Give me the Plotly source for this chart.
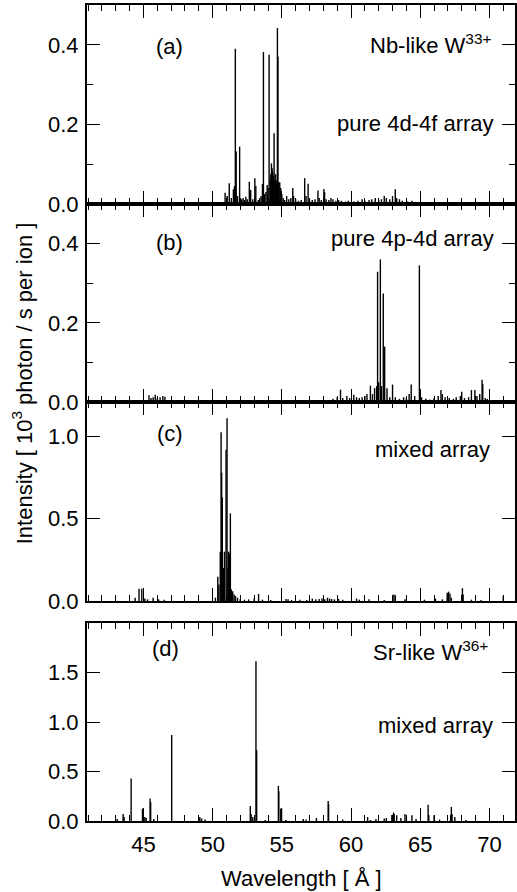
import plotly.graph_objects as go

# ---------------- data (wavelength in Å, intensity in 10^3 photon/s per ion) -------------
wl_a = [50.90, 51.05, 51.20, 51.35, 51.50, 51.58, 51.64, 51.70, 51.80, 51.95, 52.00, 52.10, 52.20, 52.30,
        52.40, 52.50, 52.65, 52.75, 52.90, 53.05, 53.12, 53.30, 53.40, 53.50, 53.60, 53.67, 53.75, 53.85,
        53.94, 54.00, 54.08, 54.15, 54.20, 54.25, 54.30, 54.35, 54.40, 54.44, 54.50, 54.55, 54.60, 54.64,
        54.68, 54.72, 54.78, 54.85, 54.92, 55.00, 55.10, 55.20, 55.35, 55.50, 55.65, 55.79, 55.85, 56.00,
        56.20, 56.40, 56.65, 56.75, 56.90, 57.00, 57.20, 57.40, 57.61, 57.70, 57.85, 58.04, 58.09, 58.20,
        58.40, 58.55, 58.70, 58.90, 59.10, 59.30, 59.60, 59.80, 60.00, 60.20, 60.50, 60.80, 61.00, 61.30,
        61.50, 61.75, 62.00, 62.20, 62.40, 62.55, 62.80, 63.00, 63.20, 63.30, 63.50, 63.70, 64.10, 64.40,
        64.80, 65.50, 66.20]
int_a = [0.028, 0.020, 0.052, 0.015, 0.037, 0.045, 0.390, 0.132, 0.020, 0.144, 0.010, 0.012, 0.015, 0.010,
         0.018, 0.012, 0.056, 0.035, 0.012, 0.065, 0.045, 0.010, 0.015, 0.020, 0.050, 0.382, 0.025, 0.030,
         0.048, 0.040, 0.375, 0.060, 0.075, 0.102, 0.090, 0.080, 0.070, 0.178, 0.060, 0.075, 0.055, 0.060,
         0.442, 0.370, 0.055, 0.054, 0.040, 0.025, 0.015, 0.010, 0.020, 0.012, 0.015, 0.040, 0.020, 0.012,
         0.008, 0.010, 0.065, 0.020, 0.051, 0.012, 0.010, 0.012, 0.034, 0.015, 0.010, 0.038, 0.030, 0.012,
         0.010, 0.015, 0.012, 0.008, 0.010, 0.008, 0.006, 0.008, 0.005, 0.006, 0.008, 0.012, 0.008, 0.010,
         0.012, 0.015, 0.010, 0.012, 0.020, 0.015, 0.012, 0.020, 0.037, 0.015, 0.012, 0.008, 0.006, 0.008,
         0.005, 0.004, 0.003]

wl_b = [45.40, 45.55, 45.70, 45.85, 46.00, 46.20, 46.40, 46.55, 46.80, 47.30, 58.20, 58.70, 59.00, 59.24,
        59.40, 59.70, 59.90, 60.20, 60.40, 60.60, 60.80, 61.00, 61.15, 61.40, 61.55, 61.70, 61.85, 61.92,
        62.00, 62.12, 62.20, 62.33, 62.43, 62.60, 62.80, 63.00, 63.20, 63.50, 63.80, 64.00, 64.20, 64.35,
        64.60, 64.94, 65.10, 65.40, 65.70, 66.00, 66.30, 66.50, 66.60, 66.80, 67.10, 67.40, 67.60, 67.90,
        68.00, 68.20, 68.50, 68.70, 68.95, 69.10, 69.30, 69.47, 69.52, 69.70, 69.85]
int_b = [0.017, 0.010, 0.012, 0.018, 0.010, 0.012, 0.015, 0.013, 0.005, 0.004, 0.004, 0.008, 0.012, 0.031,
         0.010, 0.015, 0.010, 0.018, 0.012, 0.010, 0.012, 0.015, 0.020, 0.041, 0.020, 0.035, 0.040, 0.329,
         0.050, 0.360, 0.040, 0.274, 0.140, 0.035, 0.012, 0.044, 0.012, 0.008, 0.012, 0.010, 0.020, 0.044,
         0.015, 0.345, 0.012, 0.008, 0.006, 0.010, 0.015, 0.030, 0.020, 0.012, 0.010, 0.008, 0.012, 0.015,
         0.026, 0.010, 0.012, 0.030, 0.030, 0.015, 0.020, 0.056, 0.045, 0.010, 0.008]

wl_c = [44.40, 44.68, 44.88, 45.10, 45.30, 45.70, 46.10, 46.50, 50.20, 50.37, 50.45, 50.55, 50.61, 50.65,
        50.70, 50.78, 50.85, 50.97, 51.04, 51.10, 51.15, 51.22, 51.28, 51.35, 51.45, 51.55, 51.65, 51.80,
        52.00, 52.30, 52.60, 53.00, 53.32, 53.60, 54.20, 55.30, 55.45, 55.70, 56.30, 56.80, 57.20, 57.45,
        57.70, 57.90, 58.10, 58.30, 58.45, 58.60, 58.80, 59.10, 59.40, 60.40, 60.60, 61.30, 62.40, 63.10,
        63.20, 63.90, 65.30, 66.10, 66.60, 66.95, 67.05, 67.15, 67.25, 68.05, 68.10, 68.70, 69.40, 71.00]
int_c = [0.020, 0.075, 0.075, 0.015, 0.010, 0.020, 0.010, 0.008, 0.020, 0.148, 0.100, 0.300, 1.026, 0.780,
         0.630, 0.200, 0.300, 0.920, 1.111, 0.200, 0.300, 0.290, 0.533, 0.070, 0.060, 0.040, 0.030, 0.020,
         0.012, 0.008, 0.010, 0.015, 0.043, 0.008, 0.006, 0.012, 0.010, 0.006, 0.008, 0.006, 0.015, 0.010,
         0.012, 0.015, 0.010, 0.020, 0.015, 0.012, 0.010, 0.012, 0.008, 0.015, 0.008, 0.010, 0.006, 0.040,
         0.035, 0.010, 0.008, 0.015, 0.010, 0.050, 0.057, 0.045, 0.020, 0.077, 0.040, 0.008, 0.006, 0.030]

wl_d = [43.10, 43.53, 43.60, 44.11, 44.93, 45.10, 45.20, 45.48, 45.52, 45.75, 47.04, 49.07, 49.20, 49.45,
        52.72, 52.78, 52.90, 53.13, 53.18, 53.80, 54.75, 54.78, 54.92, 54.98, 55.30, 56.55, 56.75, 57.50,
        58.35, 58.38, 59.40, 61.20, 61.40, 61.80, 62.40, 62.55, 62.95, 63.07, 63.12, 63.30, 63.60, 63.90,
        64.40, 64.70, 65.57, 65.62, 66.00, 66.40, 67.20, 67.25, 67.30, 67.50, 68.30]
int_d = [0.020, 0.070, 0.040, 0.430, 0.125, 0.040, 0.030, 0.227, 0.190, 0.020, 0.869, 0.040, 0.025, 0.015,
         0.152, 0.070, 0.040, 1.613, 0.717, 0.010, 0.355, 0.300, 0.125, 0.125, 0.010, 0.020, 0.015, 0.030,
         0.203, 0.170, 0.015, 0.040, 0.010, 0.020, 0.025, 0.030, 0.060, 0.085, 0.070, 0.058, 0.030, 0.070,
         0.058, 0.020, 0.163, 0.060, 0.058, 0.015, 0.060, 0.142, 0.070, 0.040, 0.010]

panel_letters = ["(a)", "(b)", "(c)", "(d)"]
y_ranges = [[0, 0.5], [0, 0.5], [0, 1.21], [0, 2.0]]
y_tickvals = [[0, 0.2, 0.4], [0, 0.2, 0.4], [0, 0.5, 1.0], [0, 0.5, 1.0, 1.5]]
y_minorvals = [[0.1, 0.3], [0.1, 0.3], [], []]
x_range = [40.92, 71.85]
x_title = "Wavelength [ Å ]"
y_title = "Intensity [ 10<sup>3</sup> photon / s per ion ]"

# ---------------- layout geometry (pixels) ----------------
W, H = 517, 892
L, R, T, B = 87, 517, 5, 821
panels_px = [(5, 204), (204, 402), (402, 601), (623, 821)]


def px(x, y):
    return (x - L) / (R - L), (B - y) / (B - T)


FONT = "Liberation Sans, Arial, Helvetica, sans-serif"
FS = 22
fig = go.Figure()

series = [(wl_a, int_a), (wl_b, int_b), (wl_c, int_c), (wl_d, int_d)]
for i, (wl, it) in enumerate(series):
    xs, ys = [], []
    for w, v in zip(wl, it):
        xs += [w, w, None]
        ys += [0, v, None]
    suffix = "" if i == 0 else str(i + 1)
    fig.add_trace(go.Scatter(x=xs, y=ys, mode="lines", line=dict(color="black", width=1.4),
                             xaxis="x" + suffix, yaxis="y" + suffix, showlegend=False,
                             hoverinfo="skip"))

layout = dict(width=W, height=H, margin=dict(l=L, r=W - R, t=T, b=H - B),
              paper_bgcolor="white", plot_bgcolor="white", showlegend=False,
              font=dict(family=FONT, size=FS, color="black"))

for i, (top, bot) in enumerate(panels_px):
    suffix = "" if i == 0 else str(i + 1)
    d0 = (B - bot) / (B - T)
    d1 = (B - top) / (B - T)
    xa = dict(domain=[0, 1], range=x_range, anchor="y" + suffix, showline=True, linewidth=2,
              linecolor="black", mirror="ticks", ticks="inside", ticklen=13, tickwidth=1.2,
              tickcolor="black", tick0=0, dtick=5, showgrid=False, zeroline=False,
              showticklabels=(i == 3), tickfont=dict(size=FS, family=FONT),
              ticklabelstandoff=3,
              minor=dict(dtick=1, tick0=0, ticklen=6, tickwidth=1.2, ticks="inside",
                         tickcolor="black", showgrid=False))
    ya = dict(domain=[d0, d1], range=y_ranges[i], anchor="x" + suffix, showline=True, linewidth=2,
              linecolor="black", mirror="ticks", ticks="inside", ticklen=13, tickwidth=1.2,
              tickcolor="black", tickmode="array", tickvals=y_tickvals[i], tickformat=".1f",
              showgrid=False, zeroline=False, tickfont=dict(size=FS, family=FONT),
              ticklabelstandoff=2)
    if y_minorvals[i]:
        ya["minor"] = dict(tickmode="array", tickvals=y_minorvals[i], ticklen=6, tickwidth=1.2,
                           ticks="inside", tickcolor="black", showgrid=False)
    layout["xaxis" + suffix] = xa
    layout["yaxis" + suffix] = ya

fig.update_layout(**layout)

annots = []


def add_text(text, x, y, xanchor="center", size=FS, angle=0):
    xp, yp = px(x, y)
    annots.append(dict(text=text, x=xp, y=yp, xref="paper", yref="paper", xanchor=xanchor,
                       yanchor="middle", showarrow=False, textangle=angle,
                       font=dict(size=size, family=FONT, color="black")))


letter_pos = [(170, 46), (170, 243), (170, 433), (166, 648)]
for t, (x, y) in zip(panel_letters, letter_pos):
    add_text(t, x, y)

add_text("Nb-like W<sup>33+</sup>", 495, 44, xanchor="right")
add_text("pure 4d-4f array", 498, 123, xanchor="right")
add_text("pure 4p-4d array", 498, 238, xanchor="right")
add_text("mixed array", 494, 449, xanchor="right")
add_text("Sr-like W<sup>36+</sup>", 492, 651, xanchor="right")
add_text("mixed array", 497, 725, xanchor="right")
add_text(x_title, 302, 878)
add_text(y_title, 22, 383, angle=-90)

fig.update_layout(annotations=annots)
fig.write_html("out.html", config={"displayModeBar": False},
               post_script="document.body.style.margin='0px';"
                           "document.documentElement.style.overflow='hidden';")
